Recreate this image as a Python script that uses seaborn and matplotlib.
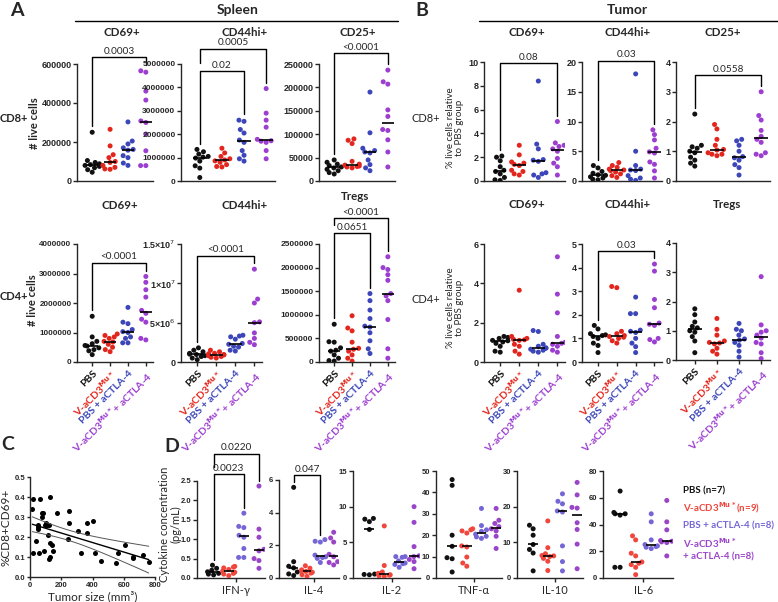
import warnings
import numpy as np
import pandas as pd
import seaborn as sns
import matplotlib.pyplot as plt

warnings.filterwarnings("ignore")

groups = ["PBS", "V-aCD3", "PBS+aCTLA-4", "V-aCD3+aCTLA-4"]
xlabels = ["PBS", r"V-aCD3$^{\mathbf{Mu*}}$", "PBS + aCTLA-4", r"V-aCD3$^{\mathbf{Mu*}}$+ aCTLA-4"]
pal_ab = ["#111111", "#e3261d", "#3c46b8", "#9c3ed0"]
pal_d = ["#111111", "#f0463c", "#7566d6", "#9a45c8"]

# A - spleen, # live cells
a_cd8_cd69 = [[250000, 105000, 95000, 88000, 84000, 80000, 75000, 68000, 58000, 45000],
              [265000, 180000, 135000, 120000, 100000, 95000, 80000, 70000, 62000, 60000],
              [303000, 205000, 190000, 170000, 162000, 158000, 130000, 120000, 92000, 80000],
              [565000, 558000, 461000, 415000, 308000, 300000, 241000, 155000, 79000, 79000]]
a_cd8_cd44 = [[1350000, 1250000, 1150000, 1050000, 1020000, 980000, 850000, 650000, 550000, 150000],
              [1400000, 1200000, 1050000, 950000, 900000, 860000, 800000, 700000, 620000, 600000],
              [2600000, 2550000, 2200000, 2050000, 1750000, 1650000, 1300000, 1100000, 950000, 850000],
              [3950000, 2900000, 2600000, 2300000, 1780000, 1720000, 1700000, 1650000, 1300000, 950000]]
a_cd8_cd25 = [[45000, 40000, 36000, 33000, 30000, 28000, 25000, 22000, 18000, 15000],
              [90000, 87000, 80000, 42000, 36000, 34000, 32000, 31000, 30000, 28000],
              [190000, 103000, 70000, 65000, 62000, 60000, 45000, 35000, 28000, 22000],
              [237000, 212000, 207000, 152000, 138000, 110000, 108000, 88000, 62000, 30000]]
a_cd4_cd69 = [[1550000, 850000, 700000, 620000, 560000, 540000, 480000, 420000, 380000, 250000],
              [950000, 900000, 850000, 800000, 700000, 680000, 600000, 500000, 420000, 350000],
              [1850000, 1350000, 1300000, 1100000, 1030000, 1000000, 850000, 800000, 650000, 650000],
              [2900000, 2700000, 2450000, 2200000, 1750000, 1650000, 1450000, 1350000, 800000, 750000]]
a_cd4_cd44 = [[1800000, 1500000, 1300000, 1100000, 1000000, 950000, 800000, 700000, 500000, 300000],
              [1500000, 1300000, 1100000, 1050000, 950000, 900000, 800000, 700000, 600000, 500000],
              [3400000, 3300000, 3200000, 2900000, 2350000, 2250000, 2000000, 1900000, 1500000, 1400000],
              [11800000, 8000000, 7500000, 5100000, 5000000, 3700000, 3000000, 2500000, 2200000]]
a_cd4_treg = [[800000, 430000, 420000, 300000, 250000, 230000, 150000, 80000, 30000, 20000],
              [980000, 720000, 660000, 420000, 290000, 270000, 230000, 150000, 80000, 20000],
              [1450000, 1300000, 1100000, 920000, 760000, 740000, 620000, 450000, 280000, 180000],
              [2230000, 2000000, 1960000, 1850000, 1730000, 1450000, 1400000, 1300000, 900000, 280000, 80000]]

# B - tumor, % relative to PBS
b_cd8_cd69 = [[2.1, 2.0, 1.7, 1.2, 0.9, 0.8, 0.6, 0.3, 0.1, 0.05],
              [3.0, 2.2, 1.6, 1.5, 1.4, 1.3, 0.9, 0.8, 0.6, 0.5],
              [8.4, 3.1, 2.7, 1.8, 1.75, 1.65, 0.7, 0.6, 0.5, 0.3],
              [5.0, 3.2, 3.0, 2.9, 2.7, 2.5, 1.9, 1.5, 1.2, 0.5]]
b_cd8_cd44 = [[2.6, 2.2, 1.6, 1.3, 1.05, 0.95, 0.7, 0.5, 0.3, 0.2],
              [3.1, 2.6, 2.3, 2.0, 1.85, 1.75, 1.5, 1.2, 0.9, 0.6],
              [18.0, 5.0, 2.6, 2.0, 1.85, 1.75, 0.9, 0.5, 0.3, 0.1],
              [8.6, 7.8, 6.9, 5.5, 4.9, 4.7, 3.2, 2.8, 1.7, 0.5]]
b_cd8_cd25 = [[2.25, 1.2, 1.15, 1.1, 1.0, 0.95, 0.8, 0.7, 0.6, 0.5],
              [1.9, 1.75, 1.4, 1.2, 1.06, 1.04, 0.95, 0.9, 0.9, 0.85],
              [1.4, 1.35, 1.2, 1.0, 0.82, 0.78, 0.7, 0.55, 0.45, 0.2],
              [3.0, 2.2, 2.05, 1.7, 1.5, 1.4, 1.3, 0.95, 0.9, 0.85]]
b_cd4_cd69 = [[1.3, 1.25, 1.2, 1.1, 1.08, 1.02, 0.95, 0.8, 0.55, 0.5],
              [3.65, 1.3, 1.2, 1.15, 1.13, 1.1, 0.9, 0.8, 0.55, 0.4],
              [1.6, 1.55, 0.9, 0.8, 0.72, 0.7, 0.65, 0.6, 0.55, 0.5],
              [5.35, 3.45, 2.5, 1.3, 1.0, 0.95, 0.9, 0.8, 0.6, 0.5]]
b_cd4_cd44 = [[1.55, 1.4, 1.2, 1.15, 1.12, 1.08, 1.0, 0.8, 0.7, 0.4],
              [3.2, 3.15, 1.3, 1.2, 1.12, 1.08, 1.05, 1.0, 0.9, 0.8],
              [2.75, 2.05, 2.05, 1.35, 1.3, 1.25, 1.0, 0.8, 0.65, 0.4],
              [4.15, 3.85, 2.65, 2.3, 1.65, 1.6, 1.55, 1.0, 0.95, 0.85]]
b_cd4_treg = [[1.75, 1.55, 1.3, 1.15, 1.1, 1.0, 0.95, 0.8, 0.65, 0.25],
              [1.42, 1.05, 0.85, 0.65, 0.6, 0.58, 0.55, 0.4, 0.3, 0.2],
              [1.25, 1.05, 1.0, 0.85, 0.72, 0.68, 0.6, 0.5, 0.3, 0.1],
              [2.85, 1.2, 1.0, 0.95, 0.85, 0.75, 0.6, 0.55, 0.25, 0.05]]

# C - correlation
tumor_size = [21, 15, 19, 38, 49, 52, 49, 57, 66, 74, 81, 77, 89, 96, 102, 110, 121, 117, 125, 123,
              130, 128, 138, 149, 172, 243, 249, 249, 304, 326, 362, 364, 404, 415, 457, 553, 560,
              609, 660, 662, 721, 760]
cd8_cd69 = [0.39, 0.34, 0.12, 0.18, 0.26, 0.25, 0.24, 0.12, 0.39, 0.32, 0.32, 0.30, 0.13, 0.26, 0.27,
            0.26, 0.26, 0.21, 0.40, 0.09, 0.10, 0.17, 0.16, 0.13, 0.32, 0.19, 0.33, 0.27, 0.23, 0.12,
            0.27, 0.22, 0.28, 0.12, 0.08, 0.07, 0.12, 0.16, 0.10, 0.095, 0.11, 0.075]

# D - cytokines (pg/mL)
ifng = [[0.33, 0.25, 0.2, 0.16, 0.12, 0.1, 0.08],
        [0.3, 0.28, 0.26, 0.22, 0.18, 0.15, 0.12, 0.1, 0.06],
        [1.67, 1.33, 1.3, 1.1, 1.05, 0.76, 0.53, 0.53],
        [2.37, 1.26, 1.05, 0.74, 0.7, 0.5, 0.45, 0.25]]
il4 = [[5.55, 1.0, 0.72, 0.62, 0.37, 0.25, 0.15],
       [0.75, 0.6, 0.5, 0.45, 0.4, 0.35, 0.3, 0.2, 0.1],
       [2.35, 2.25, 2.2, 1.4, 1.3, 1.25, 1.2, 0.95],
       [2.8, 2.45, 2.2, 1.45, 1.3, 1.0, 0.95, 0.8]]
il2 = [[8.35, 8.25, 7.9, 6.8, 0.55, 0.5, 0.45],
       [7.3, 1.75, 0.85, 0.65, 0.55, 0.45, 0.4, 0.3, 0.2],
       [3.0, 3.0, 2.9, 2.4, 2.1, 2.0, 1.9, 1.5],
       [10.0, 7.8, 4.4, 3.1, 3.0, 2.6, 2.3, 1.3]]
tnfa = [[46, 43.3, 20, 14.8, 9.5, 9, 2.8],
        [23, 22.5, 22, 21, 15, 14.5, 9.8, 7, 5.5],
        [32.5, 24.5, 22.5, 21.8, 20.5, 19.5, 19.2, 18.5],
        [32.5, 27, 25.5, 24, 23, 22, 19.5, 13.8]]
il10 = [[14.8, 13.8, 12, 9.4, 8, 7, 2],
        [16, 8.5, 6.8, 6.3, 6.2, 6, 5.5, 4.7, 2.1],
        [23.6, 21.5, 20.8, 18.8, 18.5, 9, 4.6, 2.0],
        [26.8, 23.3, 19.8, 19.6, 15.5, 13.6, 9.5, 2.6]]
il6 = [[65, 49, 48, 48, 47, 8, 8],
       [31.5, 28.5, 18.5, 16.5, 12, 11, 10, 8, 2.5],
       [48, 42, 28.5, 25, 24, 23.5, 23, 22],
       [58, 42, 36, 28, 27.5, 27, 26.5, 16.5]]

sns.set_style("ticks")
plt.rcParams["font.family"] = ["Lato", "DejaVu Sans"]
plt.rcParams["axes.linewidth"] = 1.0

W, H = 778, 602
fig = plt.figure(figsize=(W / 100, H / 100), dpi=100)


def px_ax(l, t, r, b):
    return fig.add_axes([l / W, 1 - b / H, (r - l) / W, (b - t) / H])


def ftext(x, y, s, **kw):
    kw.setdefault("ha", "center")
    kw.setdefault("va", "center")
    fig.text(x / W, 1 - y / H, s, **kw)


def dots(ax, vals, pal, ytop, yticks, ylabs, brackets=(), xlim=(-0.85, 3.4), tsize=6.5):
    df = pd.DataFrame({"grp": np.repeat(groups, [len(v) for v in vals]),
                       "val": np.concatenate(vals)})
    sns.swarmplot(data=df, x="grp", y="val", hue="grp", order=groups, hue_order=groups,
                  palette=pal, size=3.6, ax=ax, legend=False, warn_thresh=1, zorder=3)
    for i, v in enumerate(vals):
        ax.hlines(np.median(v), i - 0.33, i + 0.33, color="k", lw=1.2, zorder=5)
    ax.set_ylim(0, ytop)
    ax.set_xlim(*xlim)
    ax.set_yticks(yticks)
    ax.set_yticklabels(ylabs, fontsize=tsize, fontweight="bold", fontfamily="Liberation Sans")
    ax.tick_params(axis="y", length=3, width=1, pad=1)
    ax.set_xlabel("")
    ax.set_ylabel("")
    sns.despine(ax=ax)
    # significance brackets
    done = []
    for i, j, f, lab in brackets:
        y = f * ytop
        legs = []
        for g in (i, j):
            bot = max(vals[g]) + 0.05 * ytop
            for (pi, pj, py) in done:
                if g in (pi, pj) and py < y:
                    bot = max(bot, py + 0.07 * ytop)
            legs.append(bot)
        ax.plot([i, i, j, j], [legs[0], y, y, legs[1]], color="k", lw=1, clip_on=False)
        ax.annotate(lab, ((i + j) / 2, y), xytext=(0, 1), textcoords="offset points",
                    ha="center", va="bottom", fontsize=7.2, annotation_clip=False)
        done.append((i, j, y))


def fmt(ticks):
    return [f"{t:g}" if t < 1e6 else f"{int(t)}" for t in ticks]


def xcats(ax, pal):
    ax.set_xticks(range(4))
    ax.set_xticklabels(xlabels, rotation=45, ha="right", va="top", rotation_mode="anchor",
                       fontsize=7.5, fontweight="bold")
    for t, c in zip(ax.get_xticklabels(), pal):
        t.set_color(c)
    ax.tick_params(axis="x", length=3, width=1, pad=2)


# ---------------- A row 1
t1 = [0, 200000, 400000, 600000]
ax = px_ax(77, 64, 153, 181)
dots(ax, a_cd8_cd69, pal_ab, 600000, t1, fmt(t1), [(0, 3, 1.06, "0.0003")])
ax.set_xticks([])
t2 = [0, 1000000, 2000000, 3000000, 4000000, 5000000]
ax = px_ax(181, 64, 275, 181)
dots(ax, a_cd8_cd44, pal_ab, 5000000, t2, fmt(t2), [(0, 2, 0.94, "0.02"), (0, 3, 1.13, "0.0005")],
     tsize=6)
ax.set_xticks([])
t3 = [0, 50000, 100000, 150000, 200000, 250000]
ax = px_ax(319, 64, 395, 181)
dots(ax, a_cd8_cd25, pal_ab, 250000, t3, fmt(t3), [(0, 3, 1.09, "<0.0001")])
ax.set_xticks([])

# ---------------- A row 2
t4 = [0, 1000000, 2000000, 3000000, 4000000]
ax = px_ax(77, 244, 153, 362)
dots(ax, a_cd4_cd69, pal_ab, 4000000, t4, fmt(t4), [(0, 3, 0.84, "<0.0001")], tsize=5.8)
xcats(ax, pal_ab)
ax = px_ax(181, 244, 262, 362)
dots(ax, a_cd4_cd44, pal_ab, 1.5e7, [0, 5e6, 1e7, 1.5e7],
     ["0", "5×10$^6$", "1×10$^7$", "1.5×10$^7$"], [(0, 3, 0.90, "<0.0001")])
xcats(ax, pal_ab)
t6 = [0, 500000, 1000000, 1500000, 2000000, 2500000]
ax = px_ax(319, 244, 395, 362)
dots(ax, a_cd4_treg, pal_ab, 2500000, t6, fmt(t6), [(0, 2, 1.09, "0.0651"), (0, 3, 1.22, "<0.0001")],
     tsize=6)
xcats(ax, pal_ab)

# ---------------- B row 1
ax = px_ax(484, 62, 565, 181)
dots(ax, b_cd8_cd69, pal_ab, 10, [0, 2, 4, 6, 8, 10], fmt([0, 2, 4, 6, 8, 10]), [(0, 3, 0.99, "0.08")])
ax.set_xticks([])
ax = px_ax(582, 62, 662, 181)
dots(ax, b_cd8_cd44, pal_ab, 20, [0, 5, 10, 15, 20], fmt([0, 5, 10, 15, 20]), [(0, 3, 1.01, "0.03")])
ax.set_xticks([])
ax = px_ax(676, 62, 770, 181)
dots(ax, b_cd8_cd25, pal_ab, 4, [0, 1, 2, 3, 4], fmt([0, 1, 2, 3, 4]), [(0, 3, 0.89, "0.0558")])
ax.set_xticks([])

# ---------------- B row 2
ax = px_ax(484, 244, 565, 362)
dots(ax, b_cd4_cd69, pal_ab, 6, [0, 2, 4, 6], fmt([0, 2, 4, 6]))
xcats(ax, pal_ab)
ax = px_ax(582, 244, 662, 362)
dots(ax, b_cd4_cd44, pal_ab, 5, [0, 1, 2, 3, 4, 5], fmt([0, 1, 2, 3, 4, 5]), [(0, 3, 0.94, "0.03")])
xcats(ax, pal_ab)
ax = px_ax(676, 243, 770, 360)
dots(ax, b_cd4_treg, pal_ab, 4, [0, 1, 2, 3, 4], fmt([0, 1, 2, 3, 4]))
xcats(ax, pal_ab)

# ---------------- C
axc = px_ax(30, 477, 155, 577)
sns.regplot(x=np.array(tumor_size), y=np.array(cd8_cd69), ci=None, ax=axc,
            scatter_kws=dict(s=13, color="k", linewidths=0, alpha=1),
            line_kws=dict(color="k", lw=1))
xs = np.array(tumor_size, float)
ys = np.array(cd8_cd69, float)
b1, b0 = np.polyfit(xs, ys, 1)
n = len(xs)
res = ys - (b0 + b1 * xs)
s = np.sqrt(np.sum(res ** 2) / (n - 2))
xg = np.linspace(xs.min(), xs.max(), 100)
se = s * np.sqrt(1 / n + (xg - xs.mean()) ** 2 / np.sum((xs - xs.mean()) ** 2))
for sign in (-1, 1):
    axc.plot(xg, b0 + b1 * xg + sign * 2.02 * se, color="#555555", lw=0.7)
axc.set_xlim(0, 800)
axc.set_ylim(0, 0.5)
axc.set_xticks([0, 200, 400, 600, 800])
axc.set_xticklabels(["0", "200", "400", "600", "800"], fontsize=5.5, fontweight="bold",
                    fontfamily="Liberation Sans")
axc.set_yticks([0, 0.1, 0.2, 0.3, 0.4, 0.5])
axc.set_yticklabels(["0.0", "0.1", "0.2", "0.3", "0.4", "0.5"], fontsize=5.5, fontweight="bold",
                    fontfamily="Liberation Sans")
axc.tick_params(length=2.5, width=1, pad=1)
axc.set_xlabel("Tumor size (mm³)", fontsize=8.5, labelpad=1)
axc.set_ylabel("%CD8+CD69+", fontsize=8.5, labelpad=2)
sns.despine(ax=axc)

# ---------------- D
d_panels = [
    (ifng, "IFN-γ", (197, 481, 265, 578), 2.5, [0, 0.5, 1.0, 1.5, 2.0, 2.5],
     ["0.0", "0.5", "1.0", "1.5", "2.0", "2.5"], [(0, 2, 1.07, "0.0023"), (0, 3, 1.28, "0.0220")]),
    (il4, "IL-4", (279, 480, 339, 578), 6, [0, 2, 4, 6], ["0", "2", "4", "6"], [(0, 2, 1.05, "0.047")]),
    (il2, "IL-2", (353, 471, 420, 578), 15, [0, 5, 10, 15], ["0", "5", "10", "15"], []),
    (tnfa, "TNF-α", (436, 471, 502, 578), 50, [0, 10, 20, 30, 40, 50],
     ["0", "10", "20", "30", "40", "50"], []),
    (il10, "IL-10", (517, 471, 583, 578), 30, [0, 10, 20, 30], ["0", "10", "20", "30"], []),
    (il6, "IL-6", (603, 471, 673, 578), 80, [0, 20, 40, 60, 80], ["0", "20", "40", "60", "80"], []),
]
for vals, name, box, ytop, yt, yl, br in d_panels:
    ax = px_ax(*box)
    dots(ax, vals, pal_d, ytop, yt, yl, br, xlim=(-1.1, 3.4), tsize=5.5)
    ax.set_xticks([1.5])
    ax.set_xticklabels([name], fontsize=8)
    ax.tick_params(axis="x", length=3, width=1, pad=2)

# ---------------- figure texts
ftext(17, 10, "A", fontsize=14, fontweight="bold")
ftext(422, 10, "B", fontsize=14, fontweight="bold")
ftext(8, 444, "C", fontsize=14, fontweight="bold")
ftext(172, 446, "D", fontsize=14, fontweight="bold")

ftext(238, 10, "Spleen", fontsize=10, fontweight="bold")
ftext(627, 10, "Tumor", fontsize=10, fontweight="bold")
fig.add_artist(plt.Line2D([75 / W, 398 / W], [1 - 21 / H, 1 - 21 / H], color="k", lw=1))
fig.add_artist(plt.Line2D([479 / W, 778 / W], [1 - 21 / H, 1 - 21 / H], color="k", lw=1))

for x, s in [(122, "CD69+"), (245, "CD44hi+"), (358, "CD25+"),
             (527, "CD69+"), (628, "CD44hi+"), (723, "CD25+")]:
    ftext(x, 32, s, fontsize=8.3, fontweight="bold")
for x, y, s in [(120, 205, "CD69+"), (245, 205, "CD44hi+"), (355, 197, "Tregs"),
                (527, 204, "CD69+"), (628, 204, "CD44hi+"), (727, 204, "Tregs")]:
    ftext(x, y, s, fontsize=8.3, fontweight="bold")

ftext(0, 119, "CD8+", fontsize=8, fontweight="bold", ha="left")
ftext(0, 297, "CD4+", fontsize=8, fontweight="bold", ha="left")
ftext(412, 118, "CD8+", fontsize=8, ha="left")
ftext(412, 300, "CD4+", fontsize=8, ha="left")
ftext(34, 123, "# live cells", fontsize=8, fontweight="bold", rotation=90)
ftext(33, 300, "# live cells", fontsize=8, fontweight="bold", rotation=90)
ftext(455, 128, "% live cells relative\nto PBS group", fontsize=7, rotation=90, linespacing=1.1)
ftext(455, 308, "% live cells relative\nto PBS group", fontsize=7, rotation=90, linespacing=1.1)
ftext(170, 524, "Cytokine concentration\n(pg/mL)", fontsize=8, rotation=90, linespacing=1.1)

leg = [(491, "PBS (n=7)", pal_d[0]),
       (508, r"V-aCD3$^{\mathbf{Mu*}}$(n=9)", pal_d[1]),
       (526, "PBS + aCTLA-4 (n=8)", pal_d[2]),
       (543, r"V-aCD3$^{\mathbf{Mu*}}$", pal_d[3]),
       (557, "+ aCTLA-4 (n=8)", pal_d[3])]
for y, s, c in leg:
    ftext(683, y, s, fontsize=7, fontweight="bold", color=c, ha="left")

fig.savefig("out.png", dpi=100)
